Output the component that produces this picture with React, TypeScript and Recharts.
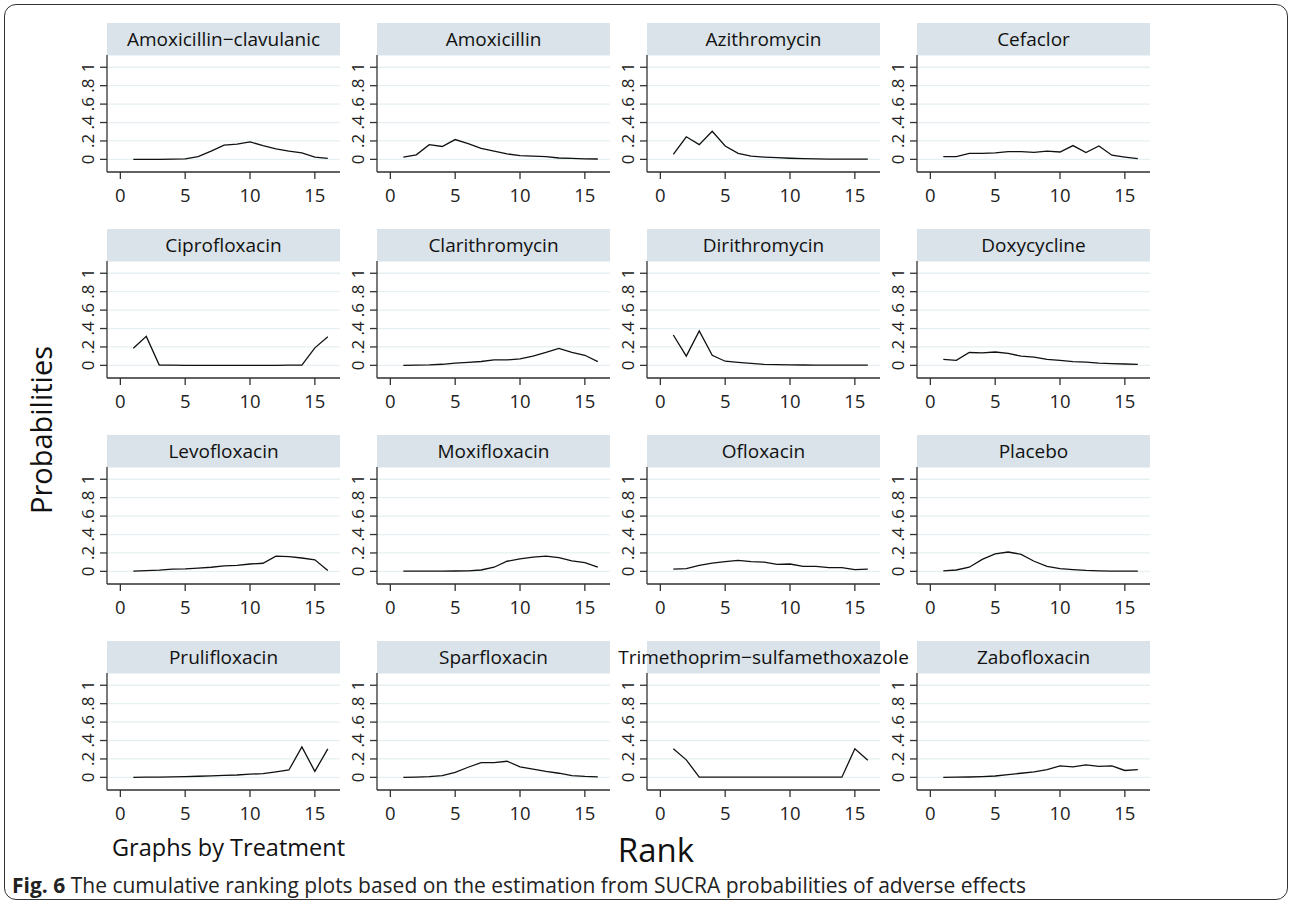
import React from "react";
import { LineChart, Line, XAxis, YAxis, CartesianGrid } from "recharts";

const ranks = [1, 2, 3, 4, 5, 6, 7, 8, 9, 10, 11, 12, 13, 14, 15, 16];

const treatments = [
  "Amoxicillin−clavulanic",
  "Amoxicillin",
  "Azithromycin",
  "Cefaclor",
  "Ciprofloxacin",
  "Clarithromycin",
  "Dirithromycin",
  "Doxycycline",
  "Levofloxacin",
  "Moxifloxacin",
  "Ofloxacin",
  "Placebo",
  "Prulifloxacin",
  "Sparfloxacin",
  "Trimethoprim−sulfamethoxazole",
  "Zabofloxacin",
];

// probability of each rank (1..16)
const amoxClav = [0, 0, 0, 0.002, 0.005, 0.03, 0.09, 0.155, 0.165, 0.19, 0.15, 0.115, 0.09, 0.07, 0.025, 0.012];
const amoxicillin = [0.025, 0.05, 0.16, 0.14, 0.215, 0.17, 0.12, 0.09, 0.06, 0.04, 0.035, 0.03, 0.015, 0.01, 0.005, 0.004];
const azithromycin = [0.055, 0.245, 0.16, 0.305, 0.145, 0.065, 0.035, 0.025, 0.018, 0.012, 0.008, 0.005, 0.003, 0.002, 0.002, 0.002];
const cefaclor = [0.03, 0.03, 0.065, 0.065, 0.07, 0.085, 0.085, 0.075, 0.09, 0.08, 0.15, 0.075, 0.145, 0.045, 0.025, 0.008];
const ciprofloxacin = [0.185, 0.315, 0.003, 0.002, 0.001, 0.001, 0.001, 0.001, 0.001, 0.001, 0.001, 0.001, 0.002, 0.003, 0.19, 0.31];
const clarithromycin = [0, 0.002, 0.005, 0.012, 0.025, 0.032, 0.042, 0.06, 0.06, 0.07, 0.1, 0.14, 0.185, 0.14, 0.11, 0.04];
const dirithromycin = [0.33, 0.1, 0.375, 0.11, 0.045, 0.032, 0.022, 0.01, 0.008, 0.006, 0.004, 0.003, 0.002, 0.002, 0.002, 0.002];
const doxycycline = [0.065, 0.055, 0.14, 0.135, 0.145, 0.13, 0.1, 0.09, 0.065, 0.055, 0.04, 0.035, 0.025, 0.02, 0.015, 0.01];
const levofloxacin = [0.002, 0.008, 0.013, 0.025, 0.028, 0.036, 0.045, 0.06, 0.065, 0.08, 0.088, 0.165, 0.16, 0.145, 0.125, 0.01];
const moxifloxacin = [0.002, 0.002, 0.002, 0.003, 0.004, 0.006, 0.015, 0.045, 0.11, 0.135, 0.155, 0.165, 0.15, 0.115, 0.095, 0.045];
const ofloxacin = [0.025, 0.03, 0.065, 0.09, 0.105, 0.12, 0.105, 0.1, 0.075, 0.08, 0.055, 0.055, 0.04, 0.04, 0.02, 0.025];
const placebo = [0.005, 0.015, 0.045, 0.13, 0.19, 0.21, 0.185, 0.11, 0.055, 0.03, 0.02, 0.01, 0.005, 0.003, 0.002, 0.002];
const prulifloxacin = [0.001, 0.002, 0.003, 0.005, 0.008, 0.012, 0.016, 0.022, 0.026, 0.035, 0.04, 0.06, 0.08, 0.33, 0.065, 0.31];
const sparfloxacin = [0.001, 0.003, 0.008, 0.02, 0.055, 0.11, 0.16, 0.16, 0.175, 0.115, 0.09, 0.065, 0.045, 0.02, 0.01, 0.005];
const trimethoprim = [0.31, 0.19, 0.003, 0.002, 0.002, 0.002, 0.002, 0.002, 0.002, 0.002, 0.002, 0.002, 0.002, 0.002, 0.31, 0.185];
const zabofloxacin = [0.001, 0.002, 0.004, 0.008, 0.015, 0.03, 0.045, 0.06, 0.085, 0.125, 0.115, 0.135, 0.12, 0.125, 0.075, 0.085];

const series = [
  amoxClav, amoxicillin, azithromycin, cefaclor,
  ciprofloxacin, clarithromycin, dirithromycin, doxycycline,
  levofloxacin, moxifloxacin, ofloxacin, placebo,
  prulifloxacin, sparfloxacin, trimethoprim, zabofloxacin,
];

const xTicks = [0, 5, 10, 15];
const yTicks = [0, 0.2, 0.4, 0.6, 0.8, 1];
const yTickLabels = ["0", ".2", ".4", ".6", ".8", "1"];

const FONT = "'Open Sans', 'Noto Sans', sans-serif";

// layout
const COL_X = 107; // axis line of first column
const COL_STEP = 270;
const ROW_TOP = 55; // plot top of first row
const ROW_STEP = 206;
const PW = 233;
const PH = 117;
const YW = 40;
const XH = 40;
const HEADER_H = 32;

const YTick = (props: any) => {
  const { x, y, payload } = props;
  const i = yTicks.indexOf(payload.value);
  const bx = x - 4;
  return (
    <text
      x={bx}
      y={y}
      transform={`rotate(-90 ${bx} ${y})`}
      textAnchor="middle"
      fontSize={17}
      fontFamily={FONT}
      fill="#222"
    >
      {i >= 0 ? yTickLabels[i] : payload.value}
    </text>
  );
};

function Panel({ idx }: { idx: number }) {
  const col = idx % 4;
  const row = Math.floor(idx / 4);
  const axisX = COL_X + col * COL_STEP;
  const top = ROW_TOP + row * ROW_STEP;
  const data = ranks.map((r, i) => ({ rank: r, p: series[idx][i] }));

  return (
    <>
      <div
        style={{
          position: "absolute",
          left: axisX,
          top: top - HEADER_H,
          width: PW,
          height: HEADER_H,
          background: "#d9e3e9",
          display: "flex",
          justifyContent: "center",
          alignItems: "center",
          fontFamily: FONT,
          fontSize: 19,
          color: "#111",
          whiteSpace: "nowrap",
        }}
      >
        {treatments[idx]}
      </div>
      <div style={{ position: "absolute", left: axisX - YW, top }}>
        <LineChart
          width={YW + PW}
          height={PH + XH}
          data={data}
          margin={{ top: 0, right: 0, bottom: 0, left: 0 }}
        >
          <CartesianGrid horizontal vertical={false} stroke="#e6eff1" strokeWidth={1.3} />
          <XAxis
            dataKey="rank"
            type="number"
            domain={[-1.03, 16.94]}
            ticks={xTicks}
            interval={0}
            allowDataOverflow
            height={XH}
            tickSize={7}
            tickMargin={10}
            stroke="#333"
            strokeWidth={1.3}
            tick={{ fontSize: 18.5, fill: "#222", fontFamily: FONT }}
          />
          <YAxis
            type="number"
            domain={[-0.137, 1.133]}
            ticks={yTicks}
            interval={0}
            allowDataOverflow
            width={YW}
            tickSize={7}
            tickMargin={2}
            stroke="#333"
            strokeWidth={1.3}
            tick={<YTick />}
          />
          <Line
            type="linear"
            dataKey="p"
            stroke="#111"
            strokeWidth={1.3}
            dot={false}
            isAnimationActive={false}
          />
        </LineChart>
      </div>
    </>
  );
}

export default function App() {
  return (
    <div
      style={{
        position: "absolute",
        left: 0,
        top: 0,
        width: 1292,
        height: 906,
        background: "#fff",
        fontFamily: FONT,
        overflow: "hidden",
      }}
    >
      <div
        style={{
          position: "absolute",
          left: 4,
          top: 4,
          width: 1282,
          height: 894,
          border: "1.5px solid #333",
          borderRadius: 12,
        }}
      />
      {treatments.map((_, i) => (
        <Panel key={i} idx={i} />
      ))}
      <div
        style={{
          position: "absolute",
          left: 40,
          top: 430,
          transform: "translate(-50%, -50%) rotate(-90deg)",
          fontSize: 29,
          color: "#111",
          whiteSpace: "nowrap",
        }}
      >
        Probabilities
      </div>
      <div
        style={{
          position: "absolute",
          left: 112,
          top: 831,
          fontSize: 23.5,
          color: "#111",
          whiteSpace: "nowrap",
        }}
      >
        Graphs by Treatment
      </div>
      <div
        style={{
          position: "absolute",
          left: 656,
          top: 848.5,
          transform: "translate(-50%, -50%)",
          fontSize: 33,
          lineHeight: 1,
          color: "#111",
          whiteSpace: "nowrap",
        }}
      >
        Rank
      </div>
      <div
        style={{
          position: "absolute",
          left: 12,
          top: 875,
          fontSize: 21,
          lineHeight: 1,
          color: "#222",
          whiteSpace: "nowrap",
        }}
      >
        <b>Fig. 6</b> The cumulative ranking plots based on the estimation from SUCRA probabilities of adverse effects
      </div>
    </div>
  );
}
